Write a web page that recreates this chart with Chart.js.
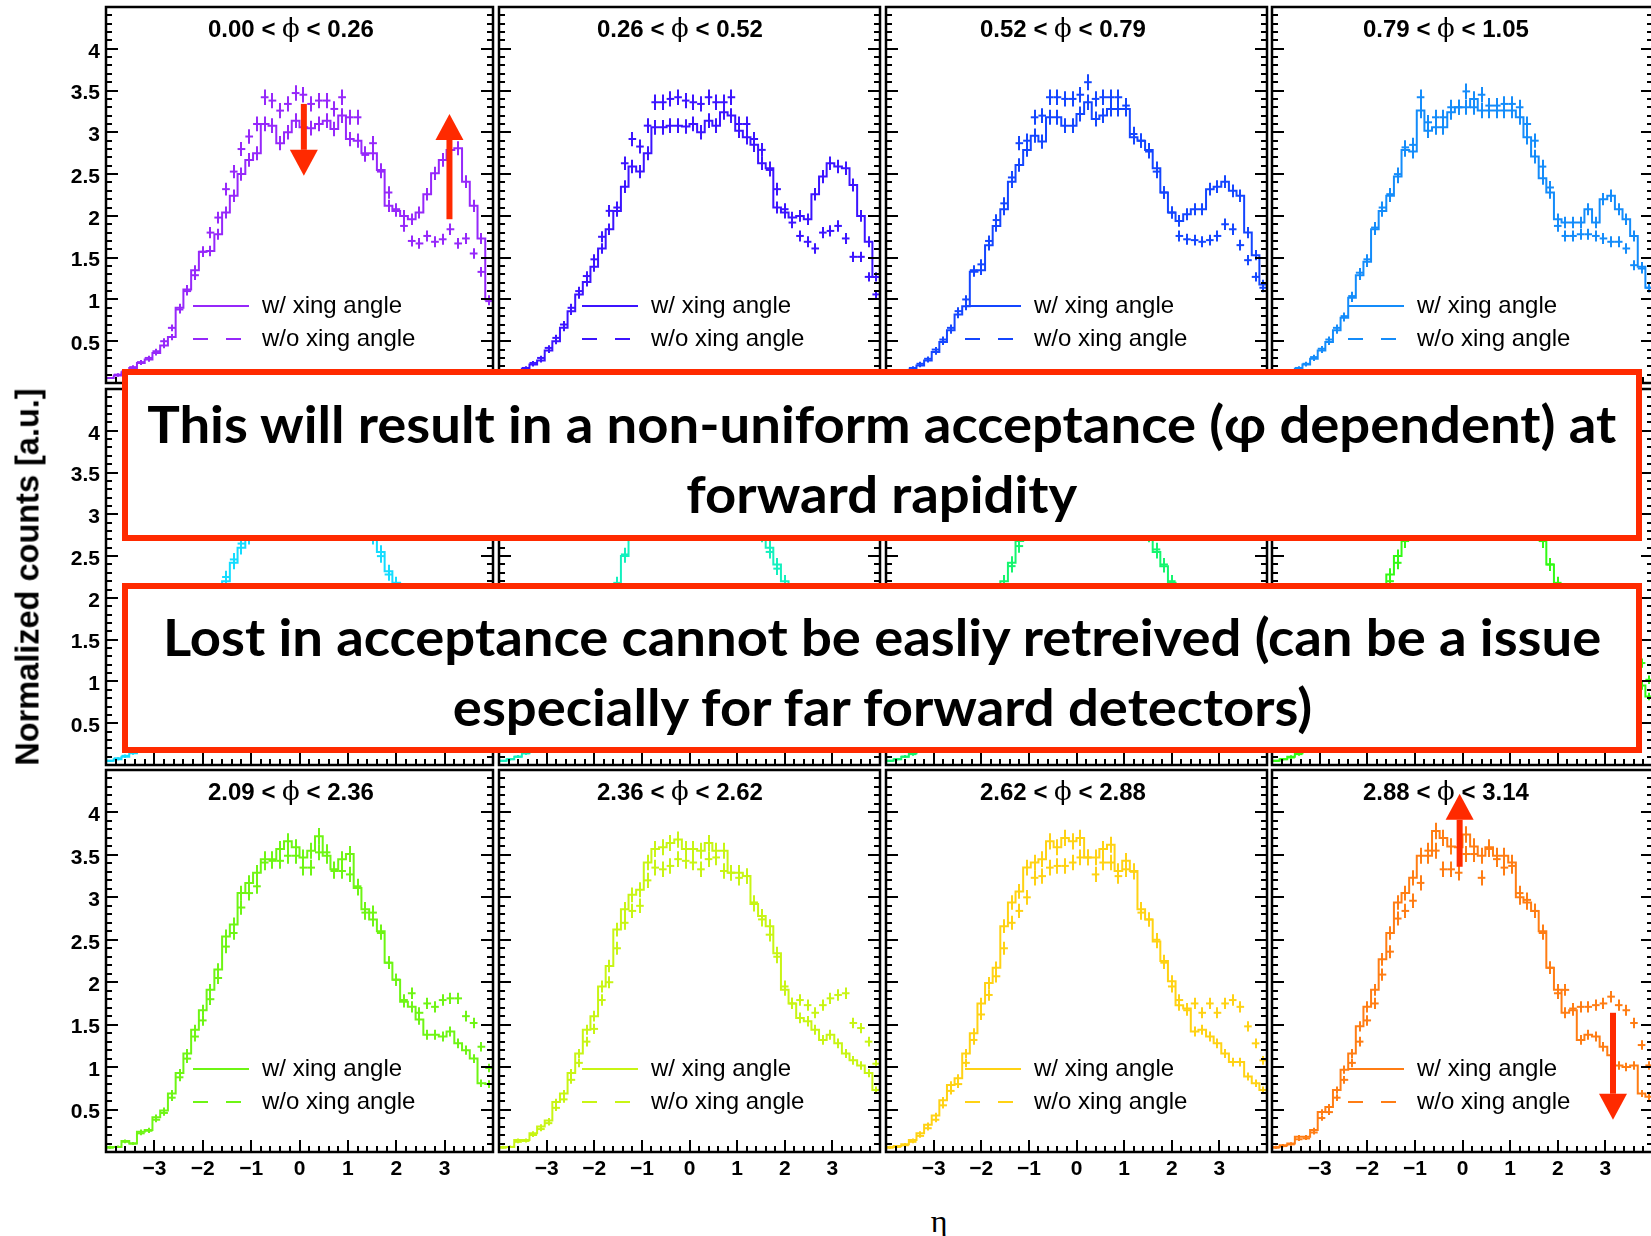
<!DOCTYPE html>
<html lang="en">
<head>
<meta charset="UTF-8">
<title>eta distributions in phi slices</title>
<script src="https://cdn.jsdelivr.net/npm/chart.js@4.4.1/dist/chart.umd.min.js"></script>
<style>
  html, body { margin: 0; padding: 0; background: #fff; }
  #page { position: relative; width: 1651px; height: 1236px; overflow: hidden; background: #fff; }
  canvas.panel { position: absolute; }
  .ytitle { position: absolute; left: 28px; top: 577px; transform: translate(-50%, -50%) rotate(-90deg);
            font: bold 32.5px "Liberation Sans", Arial, sans-serif; white-space: nowrap; color: #000; }
  .xtitle { position: absolute; left: 939px; top: 1221px; transform: translate(-50%, -50%);
            font: 32px "Liberation Serif", serif; color: #000; }
  .note { position: absolute; left: 122px; width: 1520px; box-sizing: border-box; border: 6px solid #ff2a00;
          background: #fff; display: flex; flex-direction: column; align-items: center; justify-content: center;
          padding-top: 6px; font-family: Lato, "Open Sans", sans-serif; font-weight: bold; font-size: 52px;
          line-height: 70px; color: #000; z-index: 5; }
  .note span { display: block; white-space: nowrap; }
</style>
</head>
<body>
<div id="page">
  <div class="ytitle">Normalized counts [a.u.]</div>
  <div class="xtitle">η</div>
  <div class="note" style="top:369px; height:172px;">
    <span id="fitLine">This will result in a non-uniform acceptance (φ dependent) at</span>
    <span>forward rapidity</span>
  </div>
  <div class="note" style="top:583px; height:170px;">
    <span>Lost in acceptance cannot be easliy retreived (can be a issue</span>
    <span>especially for far forward detectors)</span>
  </div>
</div>

<script>
// binning of the eta histograms
const ETA_LO = -4, ETA_HI = 4, BIN_W = 0.16;
const Y_MAX = 4.5;
const ERR_K = 0.05; // stat. error ~ ERR_K * sqrt(content)

const phiEdges = ['0.00', '0.26', '0.52', '0.79', '1.05', '1.31', '1.57', '1.83', '2.09', '2.36', '2.62', '2.88', '3.14'];
const panelColors = ['#9628fa', '#3c14ff', '#1446ff', '#148cfa', '#14dcff', '#14f0be',
                     '#14f56e', '#32fa14', '#6ef514', '#c8f514', '#ffd214', '#ff7d14'];
const xTickLabels = [-3, -2, -1, 0, 1, 2, 3];
const yTickLabels = [0.5, 1, 1.5, 2, 2.5, 3, 3.5, 4];

// w = with crossing angle (solid), o = without crossing angle (dashed), 50 bins each
const w1 = [0.06,0.09,0.13,0.18,0.24,0.28,0.36,0.45,0.55,0.9, 1.12,1.35,1.57,1.58,1.78,2.04,2.24,2.5,2.67,2.75, 3.1,3.08,2.87,3.0,3.14,3.06,3.05,3.1,3.14,3.04, 3.2,2.92,2.9,2.75,2.75,2.55,2.12,2.06,2.0,1.96, 2.04,2.26,2.51,2.67,2.79,2.81,2.41,2.12,1.73,1.0];
const o1 = [0.06,0.1,0.14,0.19,0.25,0.3,0.38,0.5,0.66,0.88, 1.1,1.29,1.57,1.8,1.98,2.32,2.53,2.8,2.95,3.1, 3.42,3.38,3.26,3.34,3.47,3.45,3.34,3.38,3.38,3.28, 3.42,3.18,3.18,2.73,2.87,2.53,2.28,2.08,1.88,1.7, 1.67,1.76,1.69,1.72,1.84,1.67,1.73,1.55,1.33,0.98];
const w2 = [0.05,0.08,0.12,0.17,0.22,0.27,0.39,0.5,0.66,0.86, 1.06,1.21,1.39,1.61,1.84,2.06,2.35,2.59,2.53,2.75, 3.06,3.06,3.08,3.08,3.07,3.1,3.0,3.14,3.08,3.24, 3.2,3.02,2.94,2.85,2.63,2.57,2.1,2.04,1.98,2.0, 1.96,2.26,2.47,2.63,2.59,2.57,2.37,2.0,1.69,1.27];
const o2 = [0.05,0.09,0.13,0.18,0.24,0.3,0.42,0.54,0.7,0.9, 1.1,1.28,1.48,1.75,2.06,2.1,2.63,2.92,2.83,3.08, 3.36,3.36,3.4,3.42,3.38,3.36,3.34,3.42,3.36,3.36, 3.42,3.1,3.1,2.92,2.79,2.55,2.32,2.08,1.92,1.76, 1.69,1.61,1.8,1.82,1.88,1.73,1.51,1.51,1.27,1.06];
const w3 = [0.05,0.08,0.12,0.16,0.21,0.27,0.37,0.49,0.63,0.82, 0.92,1.33,1.35,1.65,1.88,2.08,2.41,2.61,2.79,2.96, 2.89,3.18,3.18,3.08,3.08,3.22,3.36,3.16,3.2,3.28, 3.28,3.28,2.94,2.9,2.79,2.57,2.28,2.04,1.94,2.02, 2.08,2.08,2.32,2.35,2.41,2.3,2.24,1.8,1.53,1.18];
const o3 = [0.05,0.09,0.13,0.18,0.23,0.29,0.4,0.52,0.66,0.86, 1.0,1.35,1.42,1.7,1.95,2.15,2.46,2.87,2.9,3.18, 3.2,3.42,3.42,3.4,3.4,3.45,3.6,3.4,3.42,3.42, 3.42,3.32,2.98,2.9,2.77,2.53,2.28,2.04,1.76,1.72, 1.71,1.69,1.71,1.76,1.9,1.84,1.65,1.47,1.27,1.14];
const w4 = [0.05,0.08,0.12,0.17,0.22,0.29,0.39,0.49,0.63,0.78, 1.02,1.29,1.45,1.84,2.06,2.24,2.47,2.79,2.77,3.26, 3.02,3.06,3.06,3.24,3.3,3.3,3.4,3.26,3.26,3.26, 3.26,3.26,3.18,2.94,2.71,2.45,2.28,1.96,1.92,1.92, 1.92,2.08,1.92,2.2,2.24,2.08,1.96,1.76,1.39,1.14];
const o4 = [0.05,0.09,0.13,0.18,0.23,0.31,0.41,0.52,0.66,0.8, 1.04,1.32,1.48,1.86,2.1,2.26,2.5,2.82,2.85,3.42, 3.12,3.18,3.18,3.3,3.3,3.49,3.3,3.45,3.32,3.32, 3.34,3.34,3.3,3.1,2.9,2.59,2.34,1.88,1.76,1.76, 1.78,1.78,1.76,1.73,1.69,1.69,1.61,1.41,1.37,1.14];
const w5 = [0.05,0.07,0.1,0.14,0.19,0.25,0.33,0.43,0.55,0.72, 0.92,1.15,1.4,1.68,1.95,2.2,2.42,2.6,2.72,2.95, 3.1,3.2,3.28,3.3,3.35,3.38,3.32,3.35,3.3,3.28, 3.25,3.22,3.1,3.0,2.75,2.55,2.32,2.18,2.05,2.0, 1.98,2.02,2.05,2.0,1.92,1.8,1.62,1.45,1.25,1.05];
const o5 = [0.05,0.08,0.11,0.15,0.2,0.27,0.35,0.45,0.58,0.75, 0.95,1.18,1.45,1.72,2.0,2.25,2.46,2.65,2.78,3.05, 3.25,3.35,3.4,3.42,3.45,3.44,3.4,3.42,3.4,3.36, 3.32,3.28,3.15,3.0,2.72,2.5,2.28,2.05,1.9,1.82, 1.78,1.75,1.72,1.7,1.68,1.6,1.5,1.38,1.22,1.05];
const w6 = [0.05,0.07,0.1,0.14,0.19,0.26,0.34,0.45,0.58,0.75, 0.95,1.2,1.48,1.75,2.0,2.15,2.5,2.8,3.0,3.15, 3.25,3.3,3.35,3.38,3.4,3.42,3.38,3.36,3.4,3.35, 3.3,3.28,3.2,3.05,2.78,2.6,2.4,2.2,2.0,1.85, 1.8,1.82,1.85,1.82,1.75,1.62,1.5,1.35,1.18,0.98];
const o6 = [0.05,0.07,0.1,0.14,0.2,0.26,0.35,0.46,0.6,0.76, 0.97,1.22,1.5,1.78,2.02,2.18,2.52,2.82,3.05,3.22, 3.35,3.4,3.42,3.44,3.45,3.46,3.42,3.4,3.42,3.38, 3.34,3.3,3.22,3.05,2.75,2.55,2.35,2.15,1.98,1.88, 1.85,1.85,1.86,1.84,1.8,1.7,1.58,1.42,1.25,1.05];
const w7 = [0.05,0.07,0.1,0.14,0.19,0.26,0.35,0.46,0.6,0.78, 1.0,1.25,1.5,1.78,2.02,2.2,2.42,2.68,2.9,3.1, 3.25,3.35,3.4,3.45,3.5,3.48,3.45,3.5,3.45,3.42, 3.38,3.35,3.22,3.0,2.75,2.55,2.38,2.18,1.95,1.75, 1.68,1.62,1.6,1.58,1.5,1.42,1.32,1.2,1.05,0.9];
const o7 = [0.05,0.07,0.1,0.13,0.18,0.25,0.33,0.44,0.57,0.75, 0.96,1.2,1.45,1.72,1.98,2.15,2.38,2.62,2.85,3.05, 3.2,3.3,3.35,3.4,3.42,3.4,3.38,3.42,3.38,3.36, 3.32,3.3,3.2,3.0,2.78,2.58,2.4,2.2,2.0,1.85, 1.8,1.78,1.8,1.8,1.75,1.68,1.55,1.42,1.25,1.05];
const w8 = [0.05,0.07,0.1,0.14,0.19,0.26,0.35,0.47,0.62,0.8, 1.02,1.28,1.55,1.82,2.1,2.28,2.5,2.75,3.0,3.2, 3.35,3.45,3.5,3.55,3.6,3.58,3.55,3.6,3.55,3.5, 3.45,3.4,3.3,3.1,2.9,2.7,2.4,2.15,1.95,1.75, 1.62,1.55,1.5,1.45,1.4,1.3,1.2,1.08,0.95,0.82];
const o8 = [0.05,0.07,0.09,0.13,0.18,0.24,0.33,0.44,0.58,0.75, 0.96,1.2,1.46,1.74,2.02,2.2,2.42,2.68,2.92,3.1, 3.25,3.35,3.4,3.45,3.48,3.46,3.42,3.45,3.42,3.38, 3.35,3.3,3.22,3.05,2.88,2.68,2.4,2.18,2.0,1.85, 1.8,1.78,1.8,1.8,1.78,1.7,1.55,1.4,1.22,1.02];
const w9 = [0.06,0.06,0.13,0.1,0.24,0.26,0.41,0.49,0.69,0.93, 1.16,1.44,1.67,1.91,2.15,2.54,2.68,3.05,3.17,3.29, 3.45,3.45,3.57,3.66,3.59,3.47,3.55,3.72,3.49,3.33, 3.45,3.51,3.11,2.86,2.74,2.6,2.23,2.03,1.77,1.71, 1.56,1.38,1.38,1.36,1.42,1.28,1.2,1.1,0.81,0.8];
const o9 = [0.05,0.06,0.12,0.1,0.22,0.25,0.38,0.46,0.64,0.88, 1.1,1.36,1.55,1.8,2.05,2.42,2.58,2.88,3.05,3.13, 3.41,3.43,3.43,3.49,3.49,3.35,3.35,3.53,3.53,3.31, 3.31,3.27,3.13,2.82,2.82,2.58,2.23,2.03,1.79,1.87, 1.64,1.75,1.71,1.79,1.81,1.81,1.6,1.52,1.24,0.99];
const w10 = [0.06,0.06,0.14,0.14,0.22,0.3,0.37,0.59,0.69,0.93, 1.16,1.44,1.6,1.95,2.19,2.62,2.86,3.03,3.09,3.41, 3.57,3.59,3.64,3.68,3.57,3.57,3.55,3.64,3.55,3.55, 3.29,3.29,3.25,2.92,2.78,2.66,2.34,1.91,1.75,1.58, 1.54,1.44,1.32,1.38,1.28,1.16,1.08,1.02,0.93,0.73];
const o10 = [0.05,0.06,0.12,0.13,0.2,0.27,0.34,0.52,0.62,0.85, 1.05,1.3,1.45,1.79,2.0,2.4,2.7,2.84,2.9,3.2, 3.35,3.33,3.37,3.45,3.43,3.41,3.33,3.45,3.47,3.31, 3.29,3.23,3.25,2.94,2.74,2.56,2.3,1.95,1.75,1.79, 1.73,1.64,1.73,1.81,1.85,1.87,1.52,1.46,1.3,1.04];
const w11 = [0.06,0.07,0.09,0.14,0.22,0.32,0.43,0.61,0.79,0.87, 1.16,1.4,1.75,1.99,2.17,2.66,2.94,3.07,3.35,3.41, 3.45,3.66,3.59,3.7,3.66,3.7,3.47,3.47,3.57,3.62, 3.31,3.43,3.31,2.86,2.74,2.48,2.25,2.01,1.73,1.69, 1.42,1.44,1.36,1.28,1.16,1.06,1.06,0.89,0.81,0.73];
const o11 = [0.05,0.06,0.08,0.12,0.19,0.28,0.38,0.55,0.72,0.8, 1.05,1.32,1.62,1.85,2.07,2.4,2.7,2.84,3.0,3.23, 3.25,3.35,3.37,3.37,3.41,3.47,3.47,3.27,3.41,3.41, 3.25,3.33,3.3,2.82,2.74,2.5,2.23,1.95,1.79,1.67, 1.75,1.64,1.75,1.64,1.75,1.79,1.71,1.48,1.28,1.08];
const w12 = [0.06,0.08,0.1,0.18,0.18,0.26,0.47,0.53,0.73,0.97, 1.16,1.48,1.71,1.91,2.27,2.58,2.94,3.05,3.23,3.49, 3.49,3.78,3.7,3.6,3.59,3.74,3.6,3.49,3.59,3.49, 3.49,3.41,3.0,2.94,2.84,2.6,2.17,1.91,1.64,1.67, 1.32,1.38,1.36,1.24,1.14,1.02,1.0,1.02,0.69,0.65];
const o12 = [0.05,0.07,0.09,0.15,0.16,0.23,0.4,0.47,0.64,0.85, 1.05,1.3,1.55,1.75,2.09,2.36,2.75,2.84,2.96,3.17, 3.55,3.55,3.33,3.33,3.29,3.51,3.51,3.23,3.57,3.45, 3.35,3.37,3.05,2.97,2.84,2.58,2.17,1.87,1.91,1.69, 1.71,1.71,1.73,1.75,1.83,1.73,1.67,1.52,1.26,1.02];

const withXing = [w1, w2, w3, w4, w5, w6, w7, w8, w9, w10, w11, w12];
const noXing = [o1, o2, o3, o4, o5, o6, o7, o8, o9, o10, o11, o12];

// red arrows (panel index, eta, start value, tip value)
const arrows = [
  { panel: 0, eta: 0.09, from: 3.34, to: 2.48 },
  { panel: 0, eta: 3.10, from: 1.96, to: 3.22 },
  { panel: 11, eta: -0.06, from: 3.36, to: 4.22 },
  { panel: 11, eta: 3.16, from: 1.64, to: 0.38 }
];

// page layout of the pad frames
const COL_LEFT = [106, 493, 880, 1266];
const ROW_TOP = [7, 389, 770];
const PANEL_W = 387, PANEL_H = 382;
const COL_SHIFT = [0, -4, -8, -11];
const RED = '#ff2a00';

function fmtTick(v) {
  return v < 0 ? '\u2212' + (-v) : String(v);
}

const rootPlugin = {
  id: 'rootFrame',
  afterDatasetsDraw(chart, args, opt) {
    const { ctx, chartArea: a, scales: { x, y } } = chart;
    const p = opt.panel;
    ctx.save();
    ctx.beginPath();
    ctx.rect(a.left, a.top, a.right - a.left, a.bottom - a.top);
    ctx.clip();
    ctx.strokeStyle = panelColors[p];
    ctx.lineWidth = 2;
    [withXing[p], noXing[p]].forEach(vals => {
      vals.forEach((v, i) => {
        const e = ERR_K * Math.sqrt(v);
        const px = Math.round(x.getPixelForValue(ETA_LO + (i + 0.5) * BIN_W));
        ctx.beginPath();
        ctx.moveTo(px, y.getPixelForValue(v - e));
        ctx.lineTo(px, y.getPixelForValue(v + e));
        ctx.stroke();
      });
    });
    ctx.restore();
  },
  afterDraw(chart, args, opt) {
    const { ctx, chartArea: a, scales: { x, y } } = chart;
    const p = opt.panel, col = p % 4;
    const color = panelColors[p];
    ctx.save();

    // frame
    ctx.strokeStyle = '#000';
    ctx.lineWidth = 2.5;
    ctx.strokeRect(a.left, a.top, a.right - a.left, a.bottom - a.top);

    // ticks, inside the frame: left, right and bottom
    ctx.lineWidth = 2;
    ctx.beginPath();
    for (let k = 0; k <= 45; k++) {
      const py = Math.round(y.getPixelForValue(k * 0.1));
      const len = k % 5 === 0 ? 12 : 6;
      ctx.moveTo(a.left, py); ctx.lineTo(a.left + len, py);
      ctx.moveTo(a.right, py); ctx.lineTo(a.right - len, py);
    }
    for (let k = 0; k <= 40; k++) {
      const px = Math.round(x.getPixelForValue(ETA_LO + k * 0.2));
      const len = k % 5 === 0 ? 12 : 6;
      ctx.moveTo(px, a.bottom); ctx.lineTo(px, a.bottom - len);
    }
    ctx.stroke();

    // title: lo < phi < hi
    const tx = a.left + 102 + COL_SHIFT[col];
    const ty = a.top + 30;
    ctx.fillStyle = '#000';
    ctx.textBaseline = 'alphabetic';
    ctx.textAlign = 'left';
    const boldF = 'bold 24px "Liberation Sans", Arial, sans-serif';
    const phiF = '26px "DejaVu Serif", "Liberation Serif", serif';
    const s1 = phiEdges[p] + ' < ', s3 = ' < ' + phiEdges[p + 1];
    ctx.font = boldF;
    ctx.fillText(s1, tx, ty);
    let cx = tx + ctx.measureText(s1).width;
    ctx.font = phiF;
    ctx.fillText('\u03D5', cx, ty);
    cx += ctx.measureText('\u03D5').width;
    ctx.font = boldF;
    ctx.fillText(s3, cx, ty);

    // legend
    const lx0 = a.left + 87 + COL_SHIFT[col], lx1 = a.left + 143 + COL_SHIFT[col];
    const ly1 = a.top + 299, ly2 = a.top + 332;
    ctx.strokeStyle = color;
    ctx.lineWidth = 2;
    ctx.beginPath(); ctx.moveTo(lx0, ly1); ctx.lineTo(lx1, ly1); ctx.stroke();
    ctx.setLineDash([15, 18]);
    ctx.beginPath(); ctx.moveTo(lx0, ly2); ctx.lineTo(lx1, ly2); ctx.stroke();
    ctx.setLineDash([]);
    ctx.font = '24px "Liberation Sans", Arial, sans-serif';
    ctx.fillStyle = '#000';
    ctx.textBaseline = 'middle';
    ctx.fillText(chart.data.datasets[0].label, a.left + 156 + COL_SHIFT[col], ly1);
    ctx.fillText(chart.data.datasets[1].label, a.left + 156 + COL_SHIFT[col], ly2);

    // red arrows
    ctx.fillStyle = RED;
    arrows.filter(ar => ar.panel === p).forEach(ar => {
      const px = x.getPixelForValue(ar.eta);
      const y0 = y.getPixelForValue(ar.from), y1 = y.getPixelForValue(ar.to);
      const dir = Math.sign(y1 - y0);
      const headLen = 26, halfHead = 14;
      const yb = y1 - dir * headLen;
      ctx.fillRect(px - 3, Math.min(y0, yb), 6, Math.abs(yb - y0));
      ctx.beginPath();
      ctx.moveTo(px - halfHead, yb);
      ctx.lineTo(px + halfHead, yb);
      ctx.lineTo(px, y1);
      ctx.closePath();
      ctx.fill();
    });
    ctx.restore();
  }
};

const tickFont = { family: '"Liberation Sans", Arial, sans-serif', weight: 'bold', size: 21 };
const page = document.getElementById('page');

function makePanel(p) {
  const col = p % 4, row = Math.floor(p / 4);
  const ml = col === 0 ? 100 : 6, mr = 6, mt = 6, mb = row === 2 ? 50 : 6;
  const cv = document.createElement('canvas');
  cv.className = 'panel';
  cv.width = PANEL_W + ml + mr;
  cv.height = PANEL_H + mt + mb;
  cv.style.left = (COL_LEFT[col] - ml) + 'px';
  cv.style.top = (ROW_TOP[row] - mt) + 'px';
  cv.style.width = cv.width + 'px';
  cv.style.height = cv.height + 'px';
  page.insertBefore(cv, page.firstChild);

  const color = panelColors[p];
  const wv = withXing[p], ov = noXing[p];
  // step histogram: one point per lower bin edge, plus the upper edge
  const stepPts = wv.map((v, i) => ({ x: ETA_LO + i * BIN_W, y: v }));
  stepPts.push({ x: ETA_HI, y: wv[wv.length - 1] });
  const crossPts = ov.map((v, i) => ({ x: ETA_LO + (i + 0.5) * BIN_W, y: v }));

  return new Chart(cv, {
    type: 'line',
    data: {
      datasets: [
        { label: 'w/ xing angle', data: stepPts, stepped: true, borderColor: color, borderWidth: 2,
          pointRadius: 0, fill: false },
        { label: 'w/o xing angle', data: crossPts, showLine: false, borderColor: color,
          pointStyle: 'line', pointBorderColor: color, pointBorderWidth: 2,
          pointRadius: c => {
            const xs = c.chart.scales.x;
            return (xs.getPixelForValue(BIN_W) - xs.getPixelForValue(0)) / 2;
          } }
      ]
    },
    options: {
      responsive: false,
      animation: false,
      events: [],
      devicePixelRatio: 1,
      layout: {
        autoPadding: false,
        padding: { left: col === 0 ? 0 : ml, right: mr, top: mt, bottom: row === 2 ? 0 : mb }
      },
      plugins: {
        legend: { display: false },
        tooltip: { enabled: false },
        rootFrame: { panel: p }
      },
      scales: {
        x: {
          type: 'linear', min: ETA_LO, max: ETA_HI, display: row === 2,
          grid: { display: false, drawTicks: false }, border: { display: false },
          ticks: { font: tickFont, color: '#000', padding: 5, maxRotation: 0, autoSkip: false, callback: fmtTick },
          afterBuildTicks: ax => { ax.ticks = xTickLabels.map(v => ({ value: v })); },
          afterFit: ax => { ax.height = mb; ax.paddingLeft = 0; ax.paddingRight = 0; }
        },
        y: {
          type: 'linear', min: 0, max: Y_MAX, display: col === 0,
          grid: { display: false, drawTicks: false }, border: { display: false },
          ticks: { font: tickFont, color: '#000', padding: 6, labelOffset: 3, autoSkip: false, callback: v => String(v) },
          afterBuildTicks: ax => { ax.ticks = yTickLabels.map(v => ({ value: v })); },
          afterFit: ax => { ax.width = ml; ax.paddingTop = 0; ax.paddingBottom = 0; }
        }
      }
    },
    plugins: [rootPlugin]
  });
}

for (let p = 0; p < 12; p++) makePanel(p);

// squeeze the box text to the width of the original slide font
function fitNotes() {
  const first = document.getElementById('fitLine');
  const s = 1469 / first.getBoundingClientRect().width;
  document.querySelectorAll('.note span').forEach(el => { el.style.transform = 'scaleX(' + s + ')'; });
}
if (document.fonts && document.fonts.ready) document.fonts.ready.then(fitNotes); else fitNotes();
</script>
</body>
</html>
